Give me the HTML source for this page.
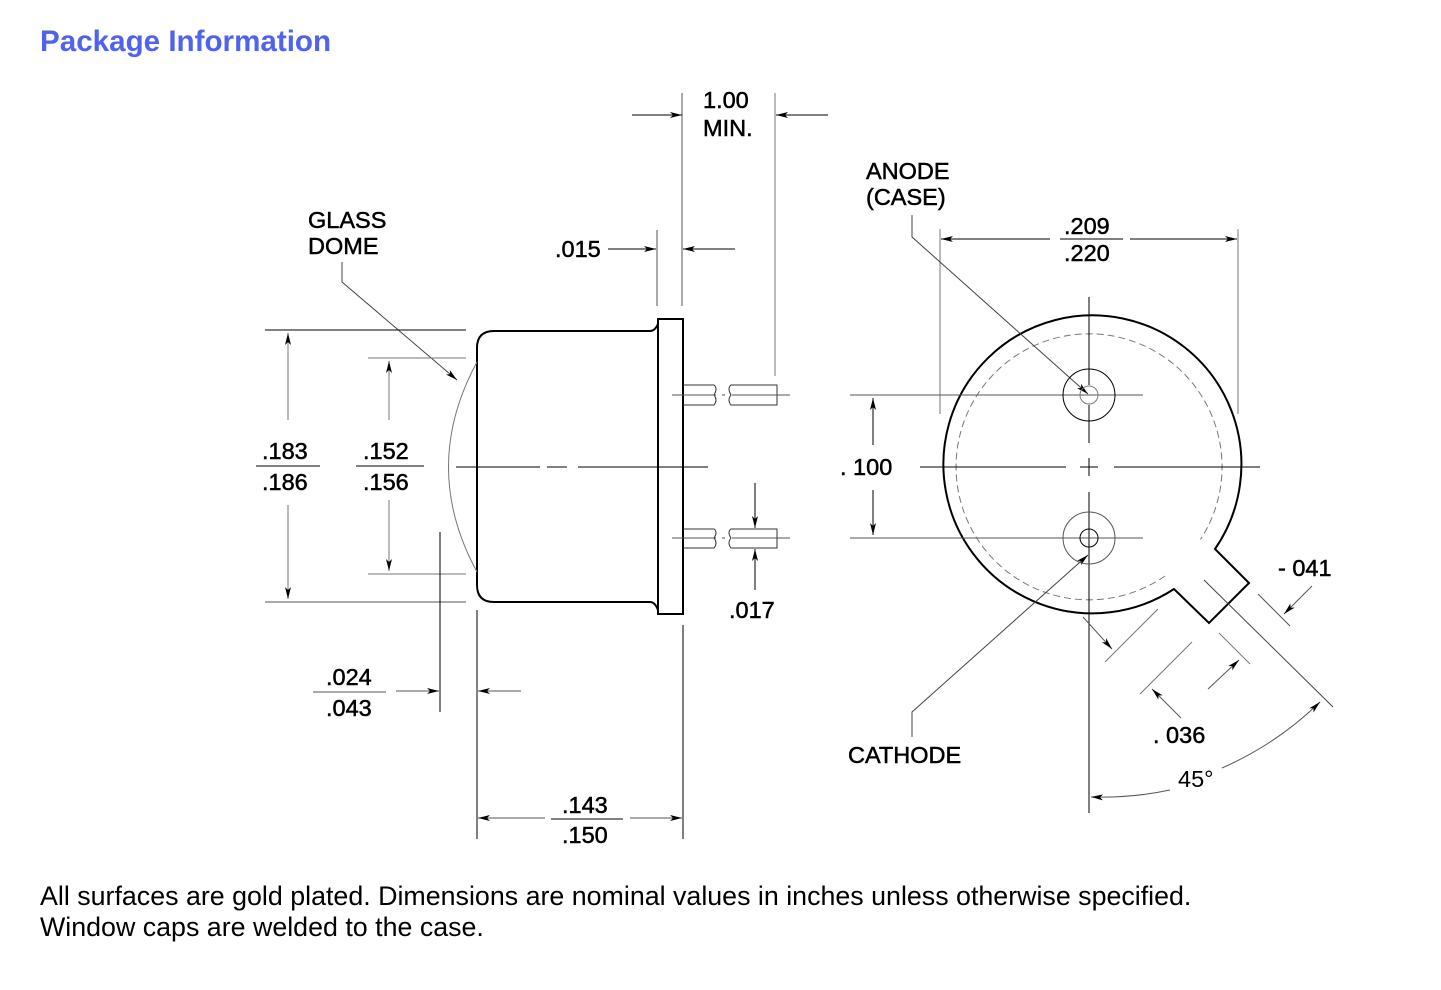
<!DOCTYPE html>
<html><head><meta charset="utf-8"><style>
html,body{margin:0;padding:0;background:#fff;width:1441px;height:990px;overflow:hidden}
svg{position:absolute;left:0;top:0}
text{font-family:"Liberation Sans",Arial,sans-serif}
</style></head><body>
<svg width="1441" height="990" viewBox="0 0 1441 990">
<defs>
<marker id="a" viewBox="0 0 12 6" refX="12" refY="3" markerWidth="12" markerHeight="6" markerUnits="userSpaceOnUse" orient="auto"><path d="M0,0 L12,3 L0,6 L3,3 z" fill="#000"/></marker>
</defs>
<text x="40" y="51" font-size="29.6" font-weight="bold" fill="#4f63ee">Package Information</text>

<g fill="none" stroke="#000" stroke-width="1">
<line x1="682" y1="93" x2="682" y2="306" stroke="#555"/>
<line x1="775" y1="93" x2="775" y2="376" stroke="#777"/>
<line x1="632" y1="115" x2="682" y2="115" marker-end="url(#a)"/>
<line x1="828" y1="115" x2="776" y2="115" marker-end="url(#a)"/>
<line x1="657" y1="230" x2="657" y2="306" stroke="#555"/>
<line x1="608" y1="249" x2="656" y2="249" marker-end="url(#a)"/>
<line x1="735" y1="249" x2="683" y2="249" marker-end="url(#a)"/>
<polyline points="342,262 342,282 457,380" stroke="#444" marker-end="url(#a)"/>
<line x1="265" y1="330" x2="466" y2="330"/>
<line x1="265" y1="602" x2="466" y2="602" stroke="#555"/>
<line x1="368" y1="358" x2="466" y2="358" stroke="#777"/>
<line x1="368" y1="574" x2="466" y2="574" stroke="#777"/>
<line x1="288" y1="420" x2="288" y2="333" stroke="#777" marker-end="url(#a)"/>
<line x1="288" y1="505" x2="288" y2="599" stroke="#777" marker-end="url(#a)"/>
<line x1="389" y1="420" x2="389" y2="361" stroke="#777" marker-end="url(#a)"/>
<line x1="389" y1="500" x2="389" y2="571" stroke="#777" marker-end="url(#a)"/>
<line x1="256" y1="466" x2="320" y2="466"/>
<line x1="356" y1="466" x2="424" y2="466"/>
<path d="M456,467 H540 M547,467 H567 M578,467 H708"/>
<line x1="440" y1="532" x2="440" y2="712"/>
<line x1="477" y1="610" x2="477" y2="839"/>
<line x1="396" y1="691" x2="439" y2="691" stroke="#555" marker-end="url(#a)"/>
<line x1="521" y1="691" x2="478" y2="691" stroke="#555" marker-end="url(#a)"/>
<line x1="313" y1="692" x2="386" y2="692" stroke="#555"/>
<line x1="683" y1="625" x2="683" y2="839"/>
<line x1="545" y1="818" x2="478" y2="818" stroke="#555" marker-end="url(#a)"/>
<line x1="630" y1="818" x2="682" y2="818" stroke="#555" marker-end="url(#a)"/>
<line x1="551" y1="819" x2="623" y2="819"/>
<line x1="755" y1="483" x2="755" y2="528" marker-end="url(#a)"/>
<line x1="755" y1="590" x2="755" y2="549" marker-end="url(#a)"/>
</g>

<g fill="none" stroke="#000" stroke-width="2">
<path d="M477,360 V348 Q477,331 494,331 H650 Q655,331 658,324"/>
<path d="M477,360 V572 V585 Q477,602 494,602 H650 Q655,602 658,610"/>
<rect x="658" y="319" width="25" height="295"/>
</g>
<path d="M477,362 Q420,467 477,572" fill="none" stroke="#777" stroke-width="1"/>
<g fill="none" stroke="#333" stroke-width="1">
<path d="M683,385 H714 Q718,388 714,395 Q718,400 714,405 H683"/>
<path d="M777,385 H731 Q727,388 731,395 Q727,400 731,405 H777 Z"/>
<path d="M683,529 H714 Q718,532 714,538 Q718,543 714,548 H683"/>
<path d="M777,529 H731 Q727,532 731,538 Q727,543 731,548 H777 Z"/>
<path d="M672,395 H716 M722,395 H725 M732,395 H790" stroke="#555"/>
<path d="M672,538 H716 M722,538 H725 M732,538 H790" stroke="#555"/>
</g>

<g fill="none" stroke="#000" stroke-width="1">
<path d="M1174,589 A149,149 0 1 1 1215,549 L1249,583 L1209,623 Z" stroke-width="2"/>
<path d="M1165,576 A133,133 0 1 1 1200.5,539.4" stroke="#777" stroke-dasharray="7,4"/>
<line x1="940" y1="229" x2="940" y2="414" stroke="#777"/>
<line x1="1238" y1="229" x2="1238" y2="414" stroke="#777"/>
<line x1="1050" y1="239" x2="941" y2="239" marker-end="url(#a)"/>
<line x1="1130" y1="239" x2="1237" y2="239" marker-end="url(#a)"/>
<line x1="1060" y1="239" x2="1123" y2="239"/>
<polyline points="912,215 912,237 1088,394" stroke="#444" marker-end="url(#a)"/>
<polyline points="912,737 912,712 1088,555" stroke="#444" marker-end="url(#a)"/>
<path d="M920,467 H1066 M1080,467 H1098 M1114,467 H1260"/>
<path d="M1089,297 V385 M1089,405 V443 M1089,458 V476 M1089,492 V813"/>
<path d="M850,395 H1143 M850,538 H1143" stroke="#555"/>
<line x1="873" y1="445" x2="873" y2="398" marker-end="url(#a)"/>
<line x1="873" y1="490" x2="873" y2="535" marker-end="url(#a)"/>
<circle cx="1089" cy="395" r="26"/>
<circle cx="1089" cy="395" r="9" stroke="#777"/>
<circle cx="1089" cy="538" r="26" stroke="#555"/>
<circle cx="1089" cy="538" r="9"/>
<line x1="1204" y1="580" x2="1333" y2="707" stroke="#444"/>
<line x1="1258" y1="594" x2="1290" y2="626" stroke="#555"/>
<line x1="1312" y1="586" x2="1284" y2="614" stroke="#555" marker-end="url(#a)"/>
<line x1="1158" y1="609" x2="1105" y2="662" stroke="#777"/>
<line x1="1083" y1="617" x2="1112" y2="649" stroke="#555" marker-end="url(#a)"/>
<line x1="1192" y1="642" x2="1140" y2="694" stroke="#777"/>
<line x1="1219" y1="633" x2="1250" y2="664" stroke="#777"/>
<line x1="1181" y1="718" x2="1152" y2="689" stroke="#555" marker-end="url(#a)"/>
<line x1="1208" y1="689" x2="1239" y2="660" stroke="#555" marker-end="url(#a)"/>
<path d="M1170,790 A330,330 0 0 1 1091,797" stroke="#555" marker-end="url(#a)"/>
<path d="M1222,768 A330,330 0 0 0 1320,702" stroke="#555" marker-end="url(#a)"/>
</g>

<g font-size="23.5" fill="#000" stroke="#000" stroke-width="0.5">
<text x="703" y="108">1.00</text>
<text x="703" y="136">MIN.</text>
<text x="555" y="257">.015</text>
<text x="308" y="228">GLASS</text>
<text x="308" y="254">DOME</text>
<text x="262" y="459">.183</text>
<text x="262" y="490">.186</text>
<text x="363" y="459">.152</text>
<text x="363" y="490">.156</text>
<text x="326" y="685">.024</text>
<text x="326" y="716">.043</text>
<text x="562" y="813">.143</text>
<text x="562" y="843">.150</text>
<text x="729" y="618">.017</text>
<text x="866" y="179">ANODE</text>
<text x="866" y="205">(CASE)</text>
<text x="1064" y="234">.209</text>
<text x="1064" y="261">.220</text>
<text x="840" y="475">. 100</text>
<text x="848" y="763">CATHODE</text>
<text x="1278" y="576">-  041</text>
<text x="1153" y="743">. 036</text>
<text x="1178" y="787" stroke-width="0">45°</text>
</g>
<text x="40" y="905" font-size="26.8">All surfaces are gold plated. Dimensions are nominal values in inches unless otherwise specified.</text>
<text x="40" y="936" font-size="26.8">Window caps are welded to the case.</text>
</svg>
</body></html>
